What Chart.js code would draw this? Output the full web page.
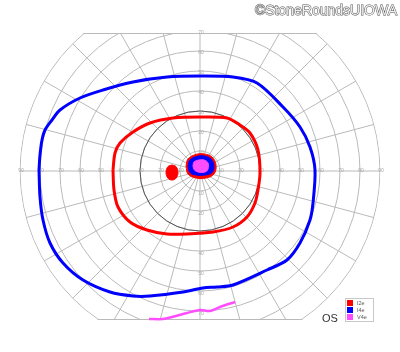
<!DOCTYPE html>
<html>
<head>
<meta charset="utf-8">
<script src="https://cdn.jsdelivr.net/npm/chart.js@4/dist/chart.umd.min.js"></script>
<style>
html,body{margin:0;padding:0;background:#fff;}
#wrap{width:400px;height:352px;position:relative;}
</style>
</head>
<body>
<div id="wrap"><canvas id="c" width="400" height="352"></canvas></div>
<script>
// ---- Grid definition (degrees of visual field) ----
const ringEcc = [10, 20, 30, 40, 50, 60, 70, 80, 90];
const meridianAngles = [0, 15, 30, 45, 60, 75, 90, 105, 120, 135, 150, 165, 180, 195, 210, 225, 240, 255, 270, 285, 300, 315, 330, 345];
const horizLabels = [10, 20, 30, 40, 50, 60, 70, 80, 90];
const vertLabels = [10, 20, 30, 40, 50, 60, 70];
const fieldTop = 69;
const fieldBottom = -74.5;
const refCircleEcc = 30;

// ---- Isopters: [x, y] in degrees (x: horizontal, y: vertical) ----
const isoI4e = [
  [-80.5, 0.5], [-80, 8], [-79, 15.5], [-77.5, 20.5], [-74, 25.5], [-70, 30.5], [-60, 36.5],
  [-48.5, 40.5], [-33.5, 44.5], [-16.5, 47], [0, 47.5], [16.5, 47], [28.5, 44], [41.5, 32], [50, 22],
  [55, 12], [57.5, 0.5], [56.5, -16], [55, -24.5], [50, -36], [43.5, -44.5], [33.5, -49.5],
  [16.5, -57], [8.5, -58], [1.5, -58.5], [-8.5, -60.5], [-25, -62.5], [-33.5, -62.5], [-45, -60.5],
  [-58.5, -54.5], [-68.5, -46], [-75, -36], [-78.5, -24.5], [-80, -13], [-80.5, 0.5]
];
const isoI2e = [
  [-43.5, 0.5], [-42.5, 9], [-40, 14], [-33.5, 19.5], [-25, 24], [-13.5, 26.5], [0, 27],
  [13.5, 26.5], [20, 23], [25, 19], [29, 10.5], [30, -1], [29, -9.5], [27.5, -16], [23.5, -23],
  [16.5, -28], [6.5, -30.5], [-6.5, -31.5], [-16.5, -31.5], [-26.5, -29.5], [-35, -25.5],
  [-41, -18], [-43, -9.5], [-43.5, 0.5]
];
const isoV4e = [
  [-25.5, -74], [-18.5, -74], [-14, -73], [-6.5, -71], [0, -69.5], [5, -70], [10, -68], [17.5, -65.5]
];
const blindSpotI2e = [
  [-14, 3], [-12, 2.2], [-11, -0.7], [-12, -3.6], [-14, -4.5], [-16, -3.6], [-17, -0.7], [-16, 2.2], [-14, 3]
];
const centralI2e = [
  [-7, 2.5], [-6, 6], [-2, 8.3], [2, 8.5], [6, 7], [8, 3], [7, -1.5], [3, -3.5], [-2, -3.5], [-6, -1.5], [-7, 2.5]
];
const centralI4e = [
  [-6, 2.5], [-5, 5.5], [-1.5, 7.3], [2, 7.5], [5.5, 6], [7, 2.5], [6, -0.8], [2.5, -2], [-2, -2], [-5, -0.8], [-6, 2.5]
];
const centralV4e = [
  [-3.5, 2.5], [-3, 4.5], [-0.5, 5.5], [2, 5.5], [4, 4], [4, 1], [2.5, -0.5], [-1, -0.5], [-3, 0.8], [-3.5, 2.5]
];

const legendLabels = ['I2e', 'I4e', 'V4e'];
const legendColors = ['#ff0000', '#0000ff', '#ff4dff'];
const eyeLabel = 'OS';
const creditText = '\u00A9StoneRoundsUIOWA';

const toPts = arr => arr.map(p => ({x: p[0], y: p[1]}));

const gridPlugin = {
  id: 'goldmannGrid',
  beforeDatasetsDraw(chart) {
    const ctx = chart.ctx;
    const xs = chart.scales.x, ys = chart.scales.y;
    const cx = xs.getPixelForValue(0), cy = ys.getPixelForValue(0);
    const pxPerDeg = xs.getPixelForValue(1) - cx;
    const maxR = ringEcc[ringEcc.length - 1] * pxPerDeg;
    const yTop = ys.getPixelForValue(fieldTop), yBot = ys.getPixelForValue(fieldBottom);
    ctx.save();
    ctx.beginPath();
    ctx.rect(0, yTop, chart.width, yBot - yTop);
    ctx.clip();
    ctx.beginPath();
    ctx.arc(cx, cy, maxR + 0.5, 0, Math.PI * 2);
    ctx.clip();
    ctx.strokeStyle = '#bababa';
    ctx.lineWidth = 1;
    ringEcc.forEach(r => {
      ctx.beginPath();
      ctx.arc(cx, cy, r * pxPerDeg, 0, Math.PI * 2);
      ctx.stroke();
    });
    meridianAngles.forEach(a => {
      const rad = a * Math.PI / 180;
      ctx.beginPath();
      ctx.moveTo(cx, cy);
      ctx.lineTo(cx + Math.cos(rad) * maxR, cy - Math.sin(rad) * maxR);
      ctx.stroke();
    });
    ctx.beginPath();
    ctx.moveTo(0, yTop + 0.5); ctx.lineTo(chart.width, yTop + 0.5);
    ctx.moveTo(0, yBot - 0.5); ctx.lineTo(chart.width, yBot - 0.5);
    ctx.stroke();
    ctx.strokeStyle = '#555';
    ctx.beginPath();
    ctx.arc(cx, cy, refCircleEcc * pxPerDeg, 0, Math.PI * 2);
    ctx.stroke();
    ctx.restore();

    ctx.save();
    ctx.fillStyle = '#a8a8a8';
    ctx.font = '5px "Liberation Sans", Arial, sans-serif';
    ctx.textAlign = 'center';
    ctx.textBaseline = 'middle';
    horizLabels.forEach(v => {
      ctx.fillText(String(v), xs.getPixelForValue(-v) + 1, cy - 0.5);
      ctx.fillText(String(v), xs.getPixelForValue(v) + 1, cy - 0.5);
    });
    vertLabels.forEach(v => {
      ctx.fillText(String(v), cx + 1, ys.getPixelForValue(v) + 2);
      ctx.fillText(String(v), cx + 1, ys.getPixelForValue(-v) + 3);
    });
    ctx.restore();
  },
  afterDraw(chart) {
    const ctx = chart.ctx;
    ctx.save();
    ctx.font = '14px "Liberation Sans", Arial, sans-serif';
    ctx.textAlign = 'right';
    ctx.textBaseline = 'alphabetic';
    ctx.lineWidth = 1;
    ctx.strokeStyle = '#555';
    ctx.strokeText(creditText, 397, 15);
    ctx.fillStyle = '#eeeeee';
    ctx.fillText(creditText, 397, 15);
    ctx.font = '11px "Liberation Sans", Arial, sans-serif';
    ctx.fillStyle = '#333';
    ctx.textAlign = 'left';
    ctx.fillText(eyeLabel, 322, 322);
    ctx.strokeStyle = '#c8c8c8';
    ctx.lineWidth = 1;
    ctx.strokeRect(345.5, 298.5, 28, 23);
    ctx.font = '5.5px "Liberation Sans", Arial, sans-serif';
    ctx.textBaseline = 'middle';
    legendLabels.forEach((lab, i) => {
      ctx.fillStyle = legendColors[i];
      ctx.fillRect(347, 300 + i * 7, 6, 6);
      ctx.fillStyle = '#555';
      ctx.fillText(lab, 357, 303 + i * 7);
    });
    ctx.restore();
  }
};

new Chart(document.getElementById('c'), {
  type: 'scatter',
  data: {
    datasets: [
      {label: 'V4e center', data: toPts(centralV4e), showLine: true, borderColor: legendColors[2], backgroundColor: legendColors[2], borderWidth: 1, fill: 'shape', tension: 0.4, pointRadius: 0, order: 0},
      {label: 'I4e center', data: toPts(centralI4e), showLine: true, borderColor: legendColors[1], backgroundColor: legendColors[1], borderWidth: 1, fill: 'shape', tension: 0.4, pointRadius: 0, order: 1},
      {label: 'I2e center', data: toPts(centralI2e), showLine: true, borderColor: legendColors[0], backgroundColor: legendColors[0], borderWidth: 1, fill: 'shape', tension: 0.4, pointRadius: 0, order: 2},
      {label: 'I2e blind spot', data: toPts(blindSpotI2e), showLine: true, borderColor: legendColors[0], backgroundColor: legendColors[0], borderWidth: 1, fill: 'shape', tension: 0.4, pointRadius: 0, order: 3},
      {label: 'I2e', data: toPts(isoI2e), showLine: true, borderColor: legendColors[0], borderWidth: 3, fill: false, tension: 0.3, pointRadius: 0, order: 4},
      {label: 'I4e', data: toPts(isoI4e), showLine: true, borderColor: legendColors[1], borderWidth: 3, fill: false, tension: 0.3, pointRadius: 0, order: 5},
      {label: 'V4e', data: toPts(isoV4e), showLine: true, borderColor: legendColors[2], borderWidth: 2.5, fill: false, tension: 0.3, pointRadius: 0, order: 6}
    ]
  },
  options: {
    responsive: false,
    animation: false,
    devicePixelRatio: 1,
    layout: {padding: 0},
    scales: {
      x: {type: 'linear', min: -100, max: 100, display: false},
      y: {type: 'linear', min: -90.5, max: 85.5, display: false}
    },
    plugins: {legend: {display: false}, tooltip: {enabled: false}}
  },
  plugins: [gridPlugin]
});
</script>
</body>
</html>
